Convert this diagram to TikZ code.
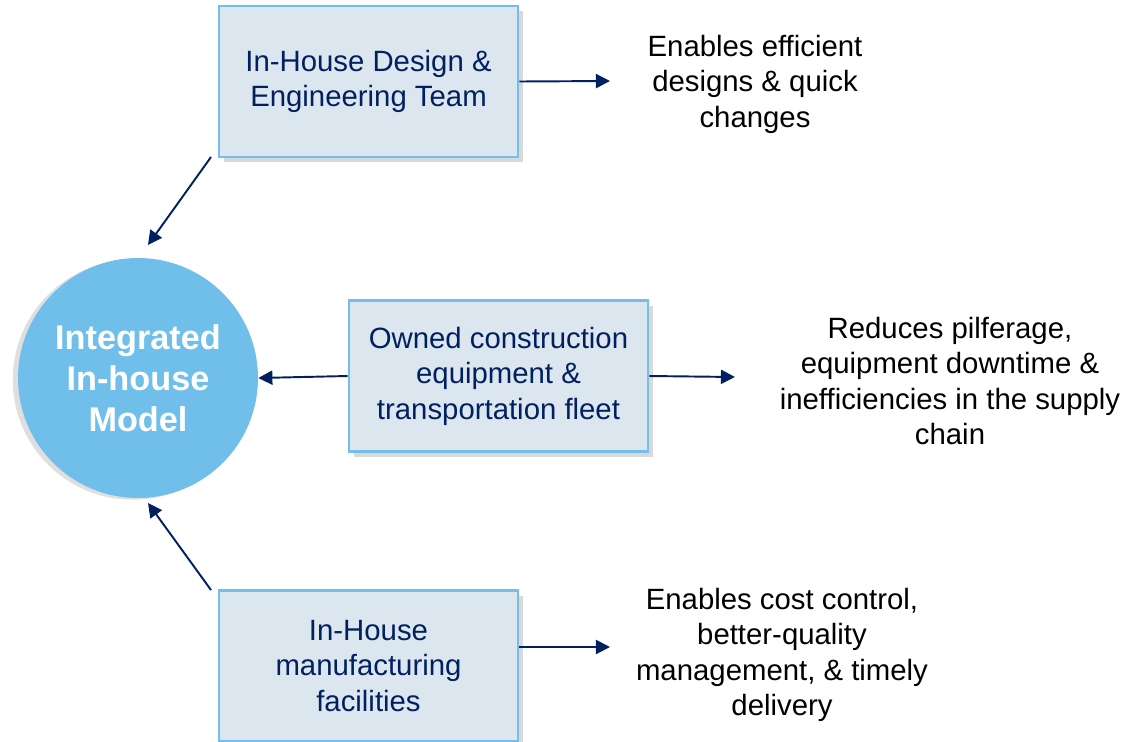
\documentclass[tikz,border=0pt]{standalone}
\usepackage{fontspec}
\setmainfont{Liberation Sans}
\usetikzlibrary{arrows.meta,shadows}

\definecolor{boxfill}{HTML}{DCE6EF}
\definecolor{boxline}{HTML}{71BFEA}
\definecolor{navy}{HTML}{002060}
\definecolor{circfill}{HTML}{6FBFEA}

\tikzset{
  unitbox/.style={draw=boxline, line width=1.6pt, fill=boxfill,
    minimum width=5.98cm, minimum height=3.02cm, align=center, text=navy,
    font=\fontsize{16.7}{20.2}\selectfont,
    drop shadow={shadow xshift=3pt, shadow yshift=-3pt, opacity=0.3}},
  result/.style={align=center, font=\fontsize{16.7}{20.2}\selectfont},
  link/.style={draw=navy, line width=1.1pt, -{Triangle[length=8pt,width=8pt]}}
}

\begin{document}
\begin{tikzpicture}[x=0.02cm, y=-0.02cm]
  \useasboundingbox (0,0) rectangle (1125,741);

  % Centre
  \node[circle, fill=circfill, minimum size=4.8cm, inner sep=0pt, text=white,
    align=center, font=\bfseries\fontsize{19.5}{23.3}\selectfont,
    drop shadow={shadow xshift=-3pt, shadow yshift=-1pt, opacity=0.25}]
    (model) at (138,378) {Integrated\\In-house\\Model};

  % Boites
  \node[unitbox] (design) at (368.5,81.5) {In-House Design \&\\Engineering Team};
  \node[unitbox] (fleet) at (498.5,376) {Owned construction\\equipment \&\\transportation fleet};
  \node[unitbox] (manuf) at (368.5,666) {In-House\\manufacturing\\facilities};

  % Effets
  \node[result] (effdesign) at (755,84) {Enables efficient\\designs \& quick\\changes};
  \node[result] (efffleet) at (950,381) {Reduces pilferage,\\equipment downtime \&\\inefficiencies in the supply\\chain};
  \node[result] (effmanuf) at (782,655) {Enables cost control,\\better-quality\\management, \& timely\\delivery};

  % Extremites libres
  \coordinate (designtip) at (610,81);
  \coordinate (fleettip) at (735,377);
  \coordinate (manuftip) at (610,647);
  \coordinate (designout) at (211,157);
  \coordinate (designin) at (148,245);
  \coordinate (manufout) at (211,590);
  \coordinate (manufin) at (148,503);

  % Fleches
  \draw[link] (design.east) -- (designtip);
  \draw[link] (fleet.east) -- (fleettip);
  \draw[link] (manuf.east |- manuftip) -- (manuftip);
  \draw[link] (fleet.west) -- (model.east);
  \draw[link] (designout) -- (designin);
  \draw[link] (manufout) -- (manufin);
\end{tikzpicture}
\end{document}
